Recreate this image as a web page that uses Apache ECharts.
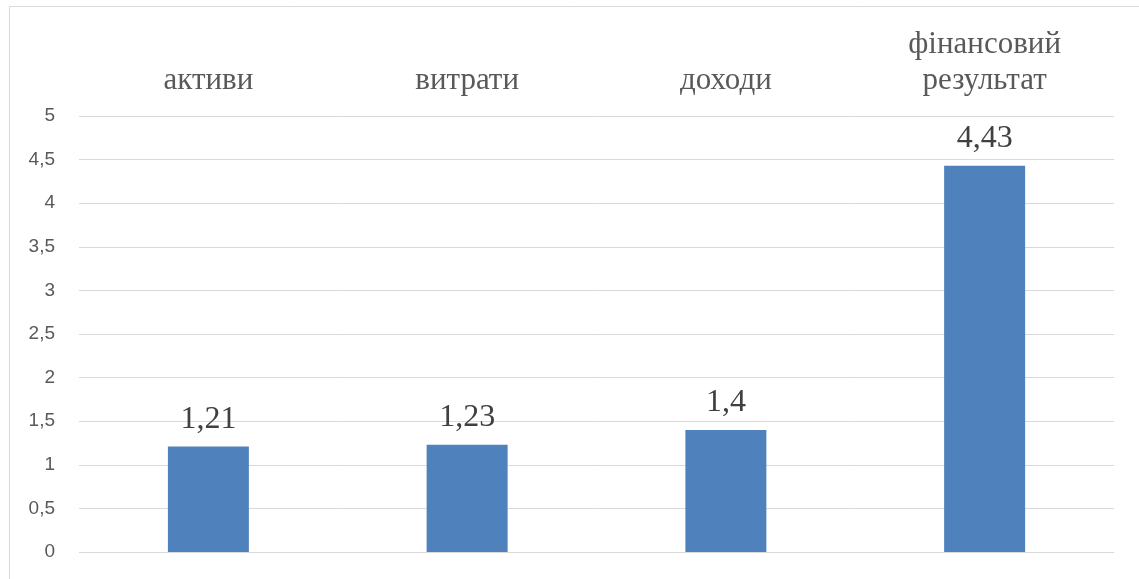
<!DOCTYPE html>
<html><head><meta charset="utf-8">
<script src="https://cdn.jsdelivr.net/npm/echarts@6/dist/echarts.min.js"></script>
<style>html,body{margin:0;padding:0;background:#fff;}#c{width:1139px;height:579px;}</style>
</head><body><div id="c"></div>
<script>
const categories = ['активи', 'витрати', 'доходи', 'фінансовий\nрезультат'];
const values = [1.21, 1.23, 1.4, 4.43];
const fmt = v => String(v).replace('.', ',');
const chart = echarts.init(document.getElementById('c'));
chart.setOption({
  animation: false,
  graphic: [{type: 'rect', shape: {x: 9.5, y: 6.5, width: 1140, height: 600}, style: {fill: 'none', stroke: '#d9d9d9', lineWidth: 1}, silent: true}],
  grid: {left: 79, right: 25, top: 116, bottom: 27},
  xAxis: {
    type: 'category', position: 'top', data: categories,
    axisLine: {show: false}, axisTick: {show: false},
    axisLabel: {margin: 17, fontFamily: 'Liberation Serif', fontSize: 31, color: '#595959', lineHeight: 36, interval: 0}
  },
  yAxis: {
    type: 'value', min: 0, max: 5, interval: 0.5,
    axisLine: {show: false}, axisTick: {show: false},
    splitLine: {lineStyle: {color: '#d9d9d9', width: 1}},
    axisLabel: {margin: 24, fontFamily: 'Liberation Sans', fontSize: 19, color: '#595959', formatter: v => fmt(v)}
  },
  series: [{
    type: 'bar', data: values, barWidth: '31.3%',
    itemStyle: {color: '#4f81bd'},
    label: {show: true, position: 'top', distance: 11, fontFamily: 'Liberation Serif', fontSize: 32, color: '#404040', formatter: p => fmt(p.value)}
  }]
});
</script></body></html>
